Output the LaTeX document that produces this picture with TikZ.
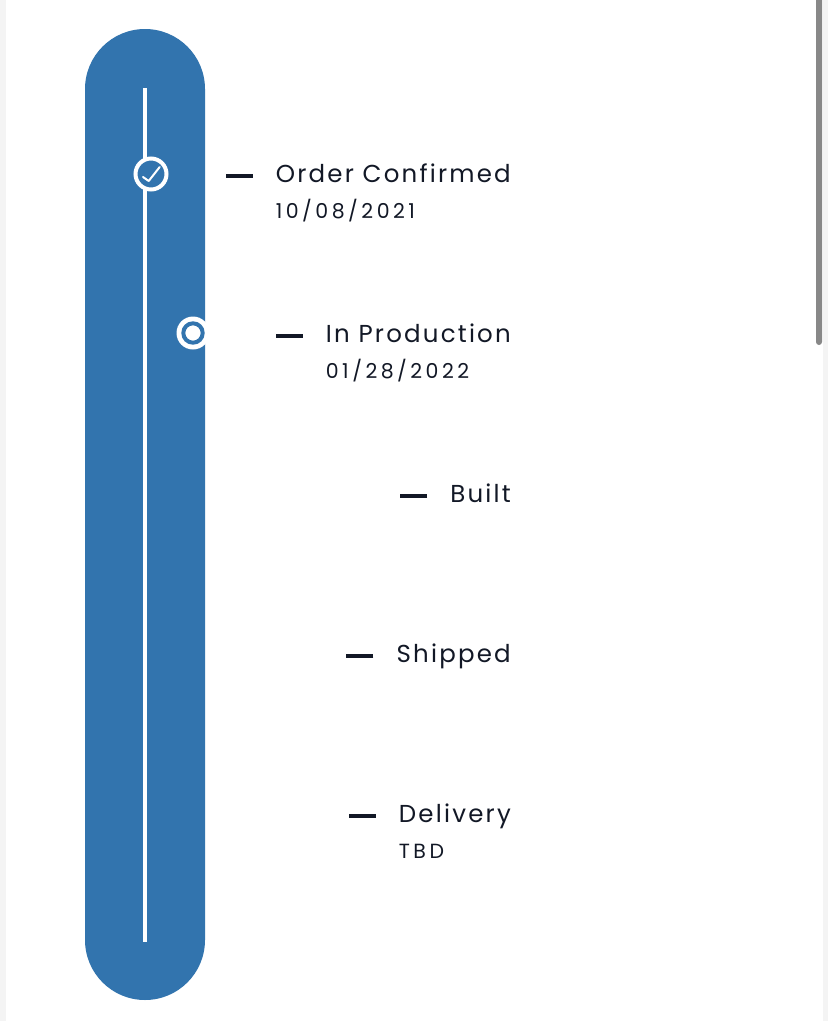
\documentclass[tikz,border=0pt]{standalone}
\usepackage{fontspec}
\setmainfont{Poppins}
\newfontfamily\titlefam[LetterSpace=9]{Poppins}
\newfontfamily\datefam[LetterSpace=17]{Poppins}
\definecolor{pillblue}{RGB}{50,116,174}
\definecolor{ink}{RGB}{18,24,38}
\definecolor{sidegray}{RGB}{244,244,244}
\definecolor{scrollgray}{RGB}{136,136,136}
\tikzset{
  steptitle/.style={anchor=base east, inner sep=0pt, text=ink, font=\titlefam\fontsize{24.5}{28}\selectfont},
  stepdate/.style={anchor=base west, inner sep=0pt, text=ink, font=\datefam\fontsize{20.5}{24}\selectfont},
  dashmark/.style={draw=ink, line width=3.5pt},
}
\begin{document}
\begin{tikzpicture}[x=1pt,y=-1pt]
\useasboundingbox (0,0) rectangle (828,1021);
\fill[white] (0,0) rectangle (828,1021);
\fill[sidegray] (0,0) rectangle (6,1021);
\fill[sidegray] (823,0) rectangle (828,1021);
\fill[scrollgray, rounded corners=3pt] (816,-6) rectangle (822,345);
% pill
\fill[pillblue, rounded corners=60pt] (85,29) rectangle (205,1000);
% track line
\coordinate (ltop) at (145,88);
\coordinate (lbot) at (145,942);
\draw[white, line width=3.5pt, line cap=butt] (ltop) -- (lbot);
% done marker
\node[circle, draw=white, line width=4pt, fill=pillblue, minimum size=31pt, inner sep=0pt] (c1) at (151,174) {};
\draw[white, line width=2pt, line cap=round, line join=round]
  ([shift={(-8,3)}]c1.center) -- ([shift={(-2.3,7)}]c1.center) -- ([shift={(8.7,-7)}]c1.center);
% current marker
\node[circle, fill=white, minimum size=33pt, inner sep=0pt] (c2) at (193,333) {};
\draw[pillblue, line width=4pt] (c2.center) circle (9.7pt);
% steps
\node[steptitle] (t1) at (511,182) {Order Confirmed};
\node[stepdate] (d1) at ([yshift=-36pt]t1.base west) {10/08/2021};
\node[steptitle] (t2) at (511,342) {In Production};
\node[stepdate] (d2) at ([yshift=-36pt]t2.base west) {01/28/2022};
\node[steptitle] (t3) at (511,502) {Built};
\node[steptitle] (t4) at (511,662) {Shipped};
\node[steptitle] (t5) at (511,822) {Delivery};
\node[stepdate] (d5) at ([yshift=-36pt]t5.base west) {TBD};
\foreach \t in {t1,t2,t3,t4,t5}{
  \draw[dashmark] ([xshift=-23pt,yshift=6pt]\t.base west) -- ([xshift=-50pt,yshift=6pt]\t.base west);
}
\end{tikzpicture}
\end{document}
